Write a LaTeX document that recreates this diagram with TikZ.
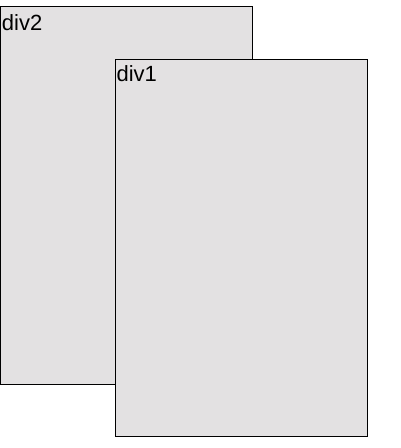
\documentclass[tikz,border=0pt]{standalone}
\usepackage{fontspec}
\setmainfont{Liberation Sans}
\usepackage{xcolor}
\definecolor{divgray}{RGB}{227,225,226}
\usepackage{tikz}
\usetikzlibrary{positioning}

\begin{document}
\begin{tikzpicture}[x=0.75pt, y=-0.75pt,
  divbox/.style={draw=black, line width=0.75pt, fill=divgray, anchor=north west,
    inner sep=0pt, outer sep=0pt},
  divlabel/.style={anchor=base west, font=\fontsize{16.5}{18}\selectfont, inner sep=0pt}]

\useasboundingbox (0,0) rectangle (400,448);

% --- back box ---
\node[divbox, minimum width=252*0.75pt, minimum height=377*0.75pt] (div2) at (0.4,7) {};
\node[divlabel] (div2-label) at ([xshift=1pt, yshift=-17.5pt]div2.north west) {div2};

% --- front box ---
\node[divbox, minimum width=252*0.75pt, minimum height=376*0.75pt] (div1) at (115,60) {};
\node[divlabel] (div1-label) at ([xshift=1pt, yshift=-16.5pt]div1.north west) {div1};

\end{tikzpicture}
\end{document}
